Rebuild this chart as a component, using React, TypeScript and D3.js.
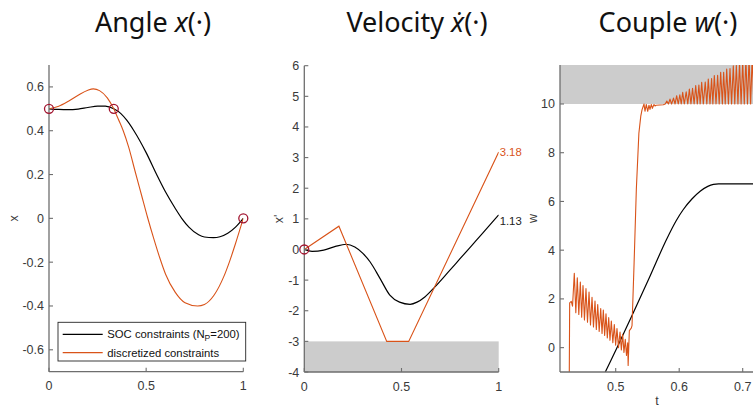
import * as d3 from 'd3'

const W = 753
const H = 407

const ORANGE = '#D95319'
const MARK = '#A2142F'
const AXIS = '#6e6e6e'
const TXT = '#3a3a3a'
const GRAY = '#cccccc'

// Angle x(t)
const angleSoc: [number, number][] = [
  [0, 0.5], [0.05, 0.497], [0.1, 0.496], [0.15, 0.499], [0.2, 0.506], [0.25, 0.512],
  [0.29, 0.512], [0.3333, 0.5], [0.37, 0.478], [0.4, 0.448], [0.437, 0.4], [0.5, 0.3],
  [0.554, 0.2], [0.6, 0.12], [0.65, 0.045], [0.683, 0], [0.72, -0.04], [0.77, -0.075],
  [0.8, -0.085], [0.846, -0.088], [0.88, -0.084], [0.92, -0.068], [0.96, -0.04], [1, 0],
]
const angleDisc: [number, number][] = [
  [0, 0.5], [0.05, 0.512], [0.1, 0.535], [0.15, 0.562], [0.2, 0.585], [0.228, 0.591],
  [0.26, 0.583], [0.3, 0.55], [0.3333, 0.5], [0.357, 0.452], [0.382, 0.4], [0.41, 0.325],
  [0.443, 0.215], [0.475, 0.11], [0.507, 0.005], [0.54, -0.095], [0.57, -0.18], [0.6, -0.255],
  [0.65, -0.338], [0.7, -0.385], [0.765, -0.4], [0.8, -0.393], [0.85, -0.35], [0.9, -0.265],
  [0.93, -0.195], [0.96, -0.115], [1, 0],
]
const angleMarks: [number, number][] = [[0, 0.5], [1 / 3, 0.5], [1, 0]]

// Velocity x'(t)
const velSoc: [number, number][] = [
  [0, 0], [0.04, -0.06], [0.1, -0.02], [0.16, 0.1], [0.215, 0.17], [0.26, 0.08],
  [0.3, -0.12], [0.338, -0.4], [0.39, -0.95], [0.44, -1.49], [0.49, -1.72], [0.544, -1.79],
  [0.58, -1.72], [0.62, -1.55], [0.672, -1.22], [0.74, -0.74], [0.8, -0.31], [0.86, 0.12],
  [0.92, 0.55], [1, 1.13],
]
const velDisc: [number, number][] = [
  [0, 0], [0.178, 0.76], [0.424, -3], [0.537, -3], [1, 3.18],
]
const velMarks: [number, number][] = [[0, 0]]
const velEnd = [{ v: 3.18, text: '3.18', color: ORANGE }, { v: 1.13, text: '1.13', color: '#000' }]

// Couple w(t)
const wSoc: [number, number][] = [
  [0.46, -2.3], [0.4857, -0.89], [0.502, 0], [0.5277, 1.43], [0.554, 2.93], [0.58, 4.44],
  [0.595, 5.2], [0.6065, 5.67], [0.62, 6.1], [0.633, 6.42], [0.645, 6.62], [0.654, 6.7],
  [0.662, 6.72], [0.72, 6.72],
]
const wDisc: [number, number][] = [
  [0.4265, -3], [0.4275, 1.84], [0.43, 1.9], [0.432, 1.7],
  [0.4348, 3.05], [0.4372, 1.43], [0.4395, 2.87], [0.4419, 1.36], [0.4443, 2.69], [0.4464, 1.25],
  [0.4485, 2.55], [0.4508, 1.14], [0.4532, 2.42], [0.4556, 1.04], [0.458, 2.28], [0.4603, 0.93],
  [0.4627, 2.07], [0.465, 0.85], [0.4674, 1.91], [0.4695, 0.75], [0.4717, 1.77], [0.474, 0.66],
  [0.4764, 1.6], [0.4785, 0.58], [0.4805, 1.54], [0.4826, 0.5], [0.4847, 1.39], [0.4868, 0.4],
  [0.489, 1.23], [0.491, 0.3], [0.4931, 1.09], [0.4955, 0.2], [0.4978, 0.95], [0.4999, 0.1],
  [0.502, 0.78], [0.5044, 0.0], [0.5068, 0.64], [0.5089, -0.1], [0.511, 0.55], [0.513, -0.2],
  [0.5151, 0.34], [0.517, -0.32], [0.5189, 0.2], [0.5196, -0.73], [0.5215, 0.7], [0.5245, 0.8],
  [0.5257, 0.9], [0.529, 3.5], [0.5325, 6.5], [0.5365, 8.8], [0.5395, 9.5], [0.5415, 9.77],
  [0.5446, 10.0], [0.5461, 9.7], [0.5482, 9.98], [0.5504, 9.7], [0.5524, 9.95], [0.554, 9.78],
  [0.5561, 9.98], [0.5577, 9.82], [0.5603, 9.98], [0.5619, 9.92], [0.5635, 9.95], [0.575, 9.97],
  [0.578, 10.0], [0.5805, 10.12], [0.583, 10.0], [0.5855, 10.2], [0.588, 10.0], [0.591, 10.24],
  [0.5935, 10.0], [0.596, 10.34], [0.5985, 10.0], [0.601, 10.38], [0.6032, 10.0], [0.6055, 10.48],
  [0.608, 10.0], [0.611, 10.5], [0.6135, 10.0], [0.616, 10.61], [0.6185, 10.0], [0.621, 10.64],
  [0.6235, 10.0], [0.626, 10.76], [0.6285, 10.0], [0.631, 10.78], [0.633, 10.0], [0.6354, 10.89],
  [0.638, 10.0], [0.641, 10.9], [0.6435, 10.0], [0.6458, 11.02], [0.6485, 10.0], [0.651, 11.04],
  [0.653, 10.0], [0.6553, 11.17], [0.658, 10.0], [0.6605, 11.18], [0.663, 10.0], [0.6653, 11.3],
  [0.668, 10.0], [0.67, 11.3], [0.6725, 10.0], [0.6748, 11.43], [0.6775, 10.0], [0.68, 11.45],
  [0.6825, 10.0], [0.6852, 11.57], [0.6875, 10.0], [0.69, 11.58], [0.6925, 10.0], [0.695, 11.7],
  [0.6975, 10.0], [0.7, 11.72], [0.7025, 10.0], [0.705, 11.84], [0.7075, 10.0], [0.71, 11.86],
  [0.7125, 10.0], [0.715, 11.98], [0.7175, 10.0],
]

const angleYTicks = [-0.6, -0.4, -0.2, 0, 0.2, 0.4, 0.6]
const velYTicks = [-4, -3, -2, -1, 0, 1, 2, 3, 4, 5, 6]
const wYTicks = [0, 2, 4, 6, 8, 10]
const unitXTicks = [0, 0.5, 1]
const wXTicks = [0.5, 0.6, 0.7]

type Sc = d3.ScaleLinear<number, number>

function Axes({ id, x, y, xticks, yticks, ylabel, ylabelOffset, xlabel }: {
  id: string; x: Sc; y: Sc; xticks: number[]; yticks: number[]; ylabel: string
  ylabelOffset: number; xlabel?: string
}) {
  const [x0, x1] = x.range()
  const [y0, y1] = y.range()
  const tick = 4
  return (
    <g id={id} fontFamily="'Liberation Sans', Arial, sans-serif" fill={TXT}>
      <line x1={x0} x2={x0} y1={y0} y2={y1} stroke={AXIS} strokeWidth={1.3} />
      <line x1={x0} x2={x1} y1={y0} y2={y0} stroke={AXIS} strokeWidth={1.3} />
      {yticks.map(v => (
        <g key={'y' + v}>
          <line x1={x0} x2={x0 + tick} y1={y(v)} y2={y(v)} stroke={AXIS} strokeWidth={1.1} />
          <text x={x0 - 5} y={y(v) + 4.5} fontSize={12.5} textAnchor="end">{String(v)}</text>
        </g>
      ))}
      {xticks.map(v => (
        <g key={'x' + v}>
          <line x1={x(v)} x2={x(v)} y1={y0} y2={y0 - tick} stroke={AXIS} strokeWidth={1.1} />
          <text x={x(v)} y={y0 + 18.5} fontSize={12.5} textAnchor="middle">{String(v)}</text>
        </g>
      ))}
      <text transform={`translate(${x0 - ylabelOffset},${(y0 + y1) / 2}) rotate(-90)`} fontSize={12.5}
        textAnchor="middle" dy={4.5}>{ylabel}</text>
      {xlabel && (
        <text x={(x0 + x1) / 2} y={y0 + 32.5} fontSize={12.5} textAnchor="middle">{xlabel}</text>
      )}
    </g>
  )
}

function Title({ cx, pre, sym, dot }: { cx: number; pre: string; sym: string; dot?: boolean }) {
  return (
    <text x={cx} y={32} fontSize={27} textAnchor="middle" fill="#111"
      fontFamily="'Noto Sans', 'DejaVu Sans', sans-serif">
      {pre}
      <tspan fontStyle="italic">{dot ? '\u1E8B' : sym}</tspan>
      (·)
    </text>
  )
}

export default function App() {
  // angle panel
  const ax = d3.scaleLinear().domain([0, 1]).range([49, 243.3])
  const ay = d3.scaleLinear().domain([-0.7, 0.7]).range([371.7, 65])
  // velocity panel
  const vx = d3.scaleLinear().domain([0, 1]).range([304.3, 498.7])
  const vy = d3.scaleLinear().domain([-4, 6]).range([372, 65.7])
  // couple panel
  const wx = d3.scaleLinear().domain([0.41228, 0.71748]).range([560, 753.8])
  const wy = d3.scaleLinear().domain([-1, 11.6]).range([372, 65])

  const smooth = (sx: Sc, sy: Sc) =>
    d3.line<[number, number]>().x(d => sx(d[0])).y(d => sy(d[1])).curve(d3.curveMonotoneX)
  const straight = (sx: Sc, sy: Sc) =>
    d3.line<[number, number]>().x(d => sx(d[0])).y(d => sy(d[1]))

  const legX = 58
  const legY = 322.3

  return (
    <svg width={W} height={H} style={{ position: 'absolute', left: 0, top: 0, background: '#fff' }}>
      <defs>
        <clipPath id="c1"><rect x={49} y={65} width={194.3} height={306.7} /></clipPath>
        <clipPath id="c2"><rect x={304.3} y={65.7} width={194.4} height={306.3} /></clipPath>
        <clipPath id="c3"><rect x={560} y={65} width={200} height={307} /></clipPath>
      </defs>

      <Title cx={153} pre="Angle " sym="x" />
      <Title cx={417} pre="Velocity " sym="x" dot />
      <Title cx={668} pre="Couple " sym="w" />

      {/* panel 1 */}
      <g clipPath="url(#c1)" fill="none">
        <path d={smooth(ax, ay)(angleSoc) ?? ''} stroke="#000" strokeWidth={1.2} />
        <path d={smooth(ax, ay)(angleDisc) ?? ''} stroke={ORANGE} strokeWidth={1.1} />
      </g>
      <Axes id="a1" x={ax} y={ay} xticks={unitXTicks} yticks={angleYTicks} ylabel="x" ylabelOffset={36} />
      {angleMarks.map((d, i) => (
        <circle key={i} cx={ax(d[0])} cy={ay(d[1])} r={4.5} fill="none" stroke={MARK} strokeWidth={1.3} />
      ))}
      <g fontFamily="'Liberation Sans', Arial, sans-serif" fontSize={11.3} fill="#111">
        <rect x={legX} y={legY} width={187.7} height={38.7} fill="#fff" stroke="#262626" strokeWidth={0.9} />
        <line x1={legX + 4.7} x2={legX + 44.7} y1={legY + 12} y2={legY + 12} stroke="#000" strokeWidth={1.2} />
        <line x1={legX + 4.7} x2={legX + 44.7} y1={legY + 30.4} y2={legY + 30.4} stroke={ORANGE} strokeWidth={1.2} />
        <text x={legX + 49.3} y={legY + 15.5}>
          SOC constraints (N<tspan fontSize={8.5} dy={3}>P</tspan><tspan dy={-3}>=200)</tspan>
        </text>
        <text x={legX + 49.3} y={legY + 34.5}>discretized constraints</text>
      </g>

      {/* panel 2 */}
      <rect x={vx(0)} y={vy(-3)} width={vx(1) - vx(0)} height={vy(-4) - vy(-3)} fill={GRAY} />
      <g clipPath="url(#c2)" fill="none">
        <path d={smooth(vx, vy)(velSoc) ?? ''} stroke="#000" strokeWidth={1.2} />
        <path d={straight(vx, vy)(velDisc) ?? ''} stroke={ORANGE} strokeWidth={1.1} />
      </g>
      <Axes id="a2" x={vx} y={vy} xticks={unitXTicks} yticks={velYTicks} ylabel="x'" ylabelOffset={26} />
      {velMarks.map((d, i) => (
        <circle key={i} cx={vx(d[0])} cy={vy(d[1])} r={4.5} fill="none" stroke={MARK} strokeWidth={1.3} />
      ))}
      {velEnd.map(d => (
        <text key={d.text} x={vx(1) + 1} y={vy(d.v) + (d.color === ORANGE ? 4 : 10)} fontSize={11.3}
          fontFamily="'Liberation Sans', Arial, sans-serif" fill={d.color === ORANGE ? ORANGE : '#222'}>
          {d.text}
        </text>
      ))}

      {/* panel 3 */}
      <rect x={wx.range()[0]} y={wy(11.6)} width={W - wx.range()[0]} height={wy(10) - wy(11.6)} fill={GRAY} />
      <g clipPath="url(#c3)" fill="none">
        <path d={smooth(wx, wy)(wSoc) ?? ''} stroke="#000" strokeWidth={1.2} />
        <path d={straight(wx, wy)(wDisc) ?? ''} stroke={ORANGE} strokeWidth={1.1} strokeLinejoin="round" />
      </g>
      <Axes id="a3" x={wx} y={wy} xticks={wXTicks} yticks={wYTicks} ylabel="w" ylabelOffset={28} xlabel="t" />
    </svg>
  )
}
